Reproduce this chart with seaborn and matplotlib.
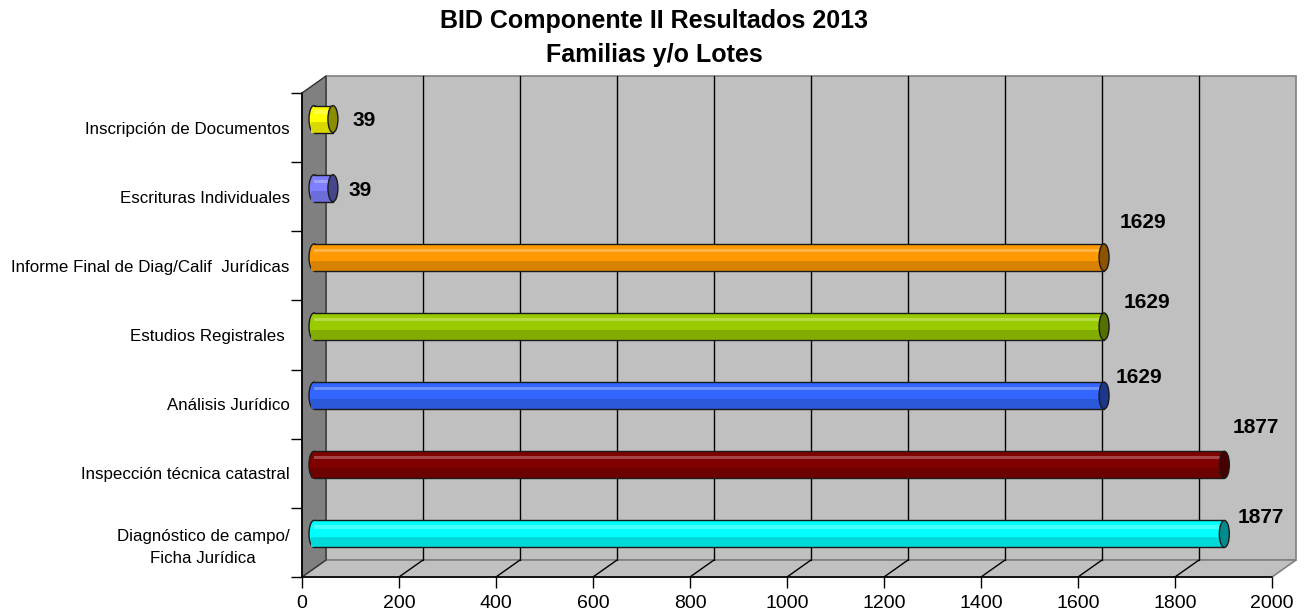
import numpy as np
import pandas as pd
import matplotlib
matplotlib.use("Agg")
import matplotlib.pyplot as plt
import matplotlib.colors as mcolors
from matplotlib.patches import Rectangle, Polygon, Ellipse
import seaborn as sns

# ---------------- data ----------------
categories = [
    "Inscripción de Documentos",
    "Escrituras Individuales",
    "Informe Final de Diag/Calif  Jurídicas",
    "Estudios Registrales ",
    "Análisis Jurídico",
    "Inspección técnica catastral",
    "Diagnóstico de campo/\nFicha Jurídica",
]
values = [39, 39, 1629, 1629, 1629, 1877, 1877]
bar_colors = ["#FFFF00", "#8080FF", "#FF9900", "#99CC00", "#3366FF", "#800000", "#00FFFF"]
x_ticks = [0, 200, 400, 600, 800, 1000, 1200, 1400, 1600, 1800, 2000]
title_lines = ["BID Componente II Resultados 2013", "Familias y/o Lotes"]
# label offsets (pixels) from the value point, as placed in the original
label_dx = [43, 39, 51, 55, 47, 43, 48]
label_dy = [-6.6, -6.7, -43.8, -32.9, -27, -46.1, -25.2]

sns.set_theme(style="white")
plt.rcParams["font.family"] = ["Liberation Sans", "DejaVu Sans"]
plt.rcParams["text.color"] = "black"
plt.rcParams["xtick.color"] = "black"
plt.rcParams["ytick.color"] = "black"
plt.rcParams["xtick.labelcolor"] = "black"
plt.rcParams["ytick.labelcolor"] = "black"

DPI = 100
W, H = 1304, 614
fig = plt.figure(figsize=(W / DPI, H / DPI), dpi=DPI)
fig.patch.set_facecolor("white")

# front plane of the 3D box, in pixels
fx0, fx1, fy0, fy1 = 302, 1272, 93, 577
ax = fig.add_axes([fx0 / W, (H - fy1) / H, (fx1 - fx0) / W, (fy1 - fy0) / H])
ax.set_facecolor("none")
n = len(categories)
ax.set_xlim(0, 2000)
ax.set_ylim(n - 0.5, -0.5)

# depth offset (pixels -> data)
DEPTH_PX_X, DEPTH_PX_Y = 24, 17
px_x = 2000 / (fx1 - fx0)
px_y = n / (fy1 - fy0)
DX = DEPTH_PX_X * px_x
DY = -DEPTH_PX_Y * px_y
top, bot = -0.5, n - 0.5

wall_c = "#C0C0C0"
side_c = "#808080"
# back wall
ax.add_patch(Rectangle((DX, top + DY), 2000, n, fc=wall_c, ec=side_c, lw=1.2, zorder=0, clip_on=False))
# floor
ax.add_patch(Polygon([(0, bot), (2000, bot), (2000 + DX, bot + DY), (DX, bot + DY)],
                     closed=True, fc=wall_c, ec=side_c, lw=1.2, zorder=0.5, clip_on=False))
# left wall
ax.add_patch(Polygon([(0, top), (DX, top + DY), (DX, bot + DY), (0, bot)],
                     closed=True, fc=side_c, ec="#333333", lw=1.0, zorder=0.6, clip_on=False))
# grid lines on back wall and floor
for xt in x_ticks[1:-1]:
    ax.plot([xt + DX, xt + DX], [top + DY, bot + DY], color="black", lw=1.0, zorder=1, clip_on=False)
    ax.plot([xt, xt + DX], [bot, bot + DY], color="black", lw=1.0, zorder=1, clip_on=False)

# front axis lines
ax.plot([0, 0], [top, bot], color="black", lw=1.2, zorder=2, clip_on=False)
ax.plot([0, 2000], [bot, bot], color="black", lw=1.2, zorder=2, clip_on=False)

# ---------------- bars via seaborn ----------------
df = pd.DataFrame({"cat": categories, "value": values})
bh = 0.39
sns.barplot(data=df, x="value", y="cat", hue="cat", palette=bar_colors, orient="h",
            width=bh, ax=ax, legend=False, linewidth=0, saturation=1, zorder=3)

cap_w = 10 * px_x
for patch, col in zip(ax.patches[-n:], bar_colors):
    x0 = patch.get_x() + DX / 2
    y0 = patch.get_y() + DY / 2
    w = patch.get_width()
    h = patch.get_height()
    patch.set_x(x0)
    patch.set_y(y0)
    patch.set_zorder(4)
    rgb = np.array(mcolors.to_rgb(col))
    dark = rgb * 0.55
    light = np.clip(rgb + (1 - rgb) * 0.35, 0, 1)
    shade = rgb * 0.85
    yc = y0 + h / 2
    # left rounded end
    ax.add_patch(Ellipse((x0, yc), cap_w, h, fc=col, ec="#1a1a1a", lw=1.0, zorder=3.5))
    # shading stripes
    ax.add_patch(Rectangle((x0, y0 + h * 0.62), w, h * 0.38, fc=shade, ec="none", zorder=4.1))
    ax.add_patch(Rectangle((x0, y0 + h * 0.18), w, h * 0.12, fc=light, ec="none", zorder=4.2, alpha=0.8))
    ax.add_patch(Rectangle((x0 - cap_w / 2 + 2 * px_x, y0 + h * 0.62), cap_w / 2, h * 0.38, fc=shade, ec="none", zorder=4.1))
    # outline top/bottom
    ax.plot([x0, x0 + w], [y0, y0], color="#1a1a1a", lw=1.0, zorder=4.5)
    ax.plot([x0, x0 + w], [y0 + h, y0 + h], color="#1a1a1a", lw=1.0, zorder=4.5)
    # right end cap
    ax.add_patch(Ellipse((x0 + w, yc), cap_w, h, fc=tuple(dark), ec="#1a1a1a", lw=1.0, zorder=5))

# value labels
for i, (v, dxp, dyp) in enumerate(zip(values, label_dx, label_dy)):
    ax.annotate(str(v), xy=(v, i), xytext=(dxp * 0.72, -dyp * 0.72), textcoords="offset points",
                ha="center", va="center", fontsize=15, fontweight="bold", color="black", zorder=6)

# ---------------- ticks ----------------
for s in ax.spines.values():
    s.set_visible(False)
ax.set_xlabel("")
ax.set_ylabel("")
ax.set_xticks(x_ticks)
ax.set_xticklabels([str(t) for t in x_ticks], fontsize=14)
ax.tick_params(axis="x", which="major", length=8, width=1.0, color="black", direction="out",
               pad=5, bottom=True)
ax.set_yticks(range(n))
ax.set_yticklabels(categories, fontsize=12.2)
ax.tick_params(axis="y", which="major", length=0, pad=9)
ax.set_yticks(np.arange(n + 1) - 0.5, minor=True)
ax.tick_params(axis="y", which="minor", length=8, width=1.0, color="black", direction="out", left=True)
for lab in ax.get_yticklabels():
    lab.set_multialignment("center")
    lab.set_linespacing(1.55)
    lab.set_color("black")

# title
fig.text(654 / W, 1 - 21 / H, title_lines[0], ha="center", va="center", fontsize=18, fontweight="bold")
fig.text(654 / W, 1 - 55 / H, title_lines[1], ha="center", va="center", fontsize=18, fontweight="bold")

fig.savefig("out.png", dpi=DPI)
